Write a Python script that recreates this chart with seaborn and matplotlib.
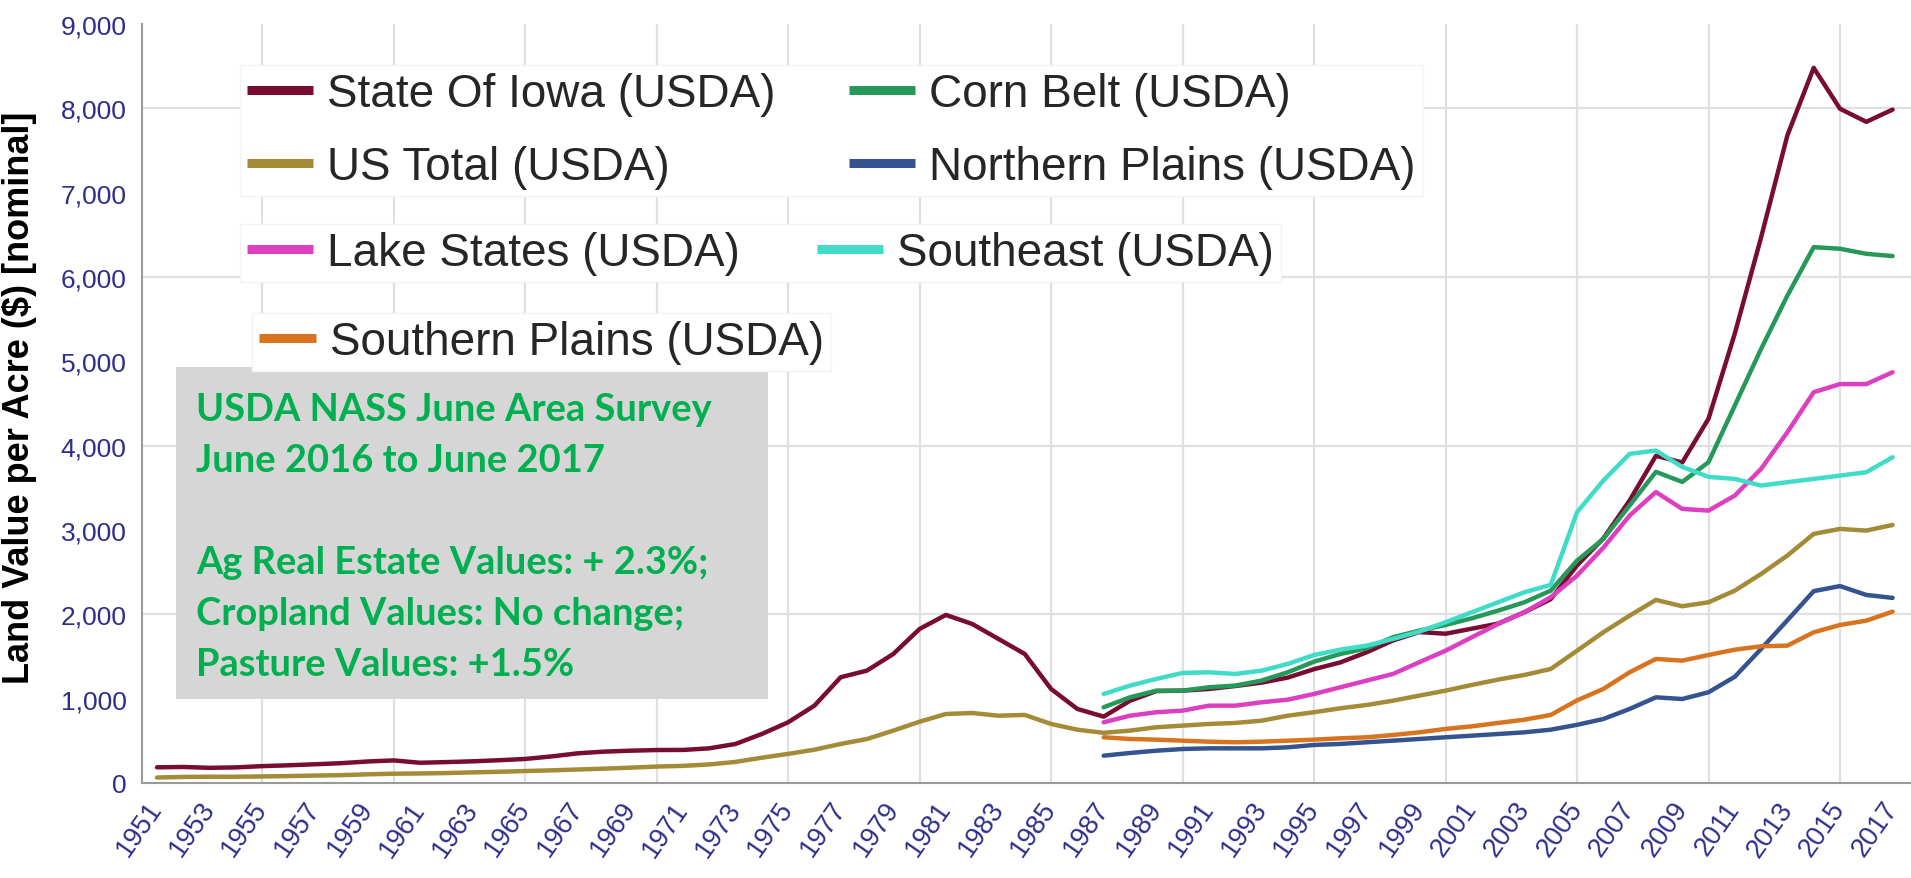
import matplotlib
matplotlib.use("Agg")
import matplotlib.pyplot as plt
from matplotlib.patches import Rectangle
from matplotlib.ticker import FixedLocator, FuncFormatter
import pandas as pd
import seaborn as sns

# ------------------------------
# Data
# ------------------------------
years_long = list(range(1951, 2018))
years_short = list(range(1987, 2018))

iowa = [186, 190, 180, 185, 200, 210, 222, 235, 255, 268,
        240, 248, 257, 270, 285, 315, 352, 372, 383, 391,
        392, 411, 463, 581, 720, 917, 1254, 1333, 1530, 1827,
        1993, 1886, 1708, 1530, 1115, 878, 787, 975, 1090, 1095,
        1115, 1150, 1190, 1250, 1350, 1430, 1550, 1690, 1790, 1770,
        1830, 1890, 2025, 2180, 2580, 2900, 3350, 3880, 3800, 4320,
        5330, 6470, 7680, 8480, 7995, 7840, 7985]

us_total = [65, 72, 74, 74, 78, 82, 88, 93, 103, 110,
            113, 118, 126, 133, 142, 150, 160, 170, 182, 195,
            203, 220, 250, 300, 345, 395, 463, 522, 621, 727,
            818, 830, 798, 807, 700, 632, 595, 621, 661, 680,
            700, 712, 739, 798, 839, 886, 925, 976, 1036, 1095,
            1163, 1226, 1281, 1352, 1569, 1787, 1985, 2171, 2096, 2143,
            2281, 2479, 2697, 2954, 3013, 2993, 3060]

corn_belt = [898, 1016, 1095, 1095, 1135, 1155, 1214, 1313, 1439, 1530,
             1597, 1728, 1807, 1874, 1953, 2044, 2143, 2281, 2637, 2894,
             3290, 3690, 3570, 3804, 4476, 5148, 5780, 6354, 6335, 6275,
             6248]

northern_plains = [324, 356, 383, 403, 411, 411, 411, 423, 451, 463,
                   483, 502, 522, 542, 561, 581, 601, 632, 690, 759,
                   878, 1016, 996, 1076, 1260, 1590, 1930, 2275, 2335, 2230,
                   2195]

lake_states = [720, 798, 839, 858, 917, 917, 957, 988, 1056, 1135,
               1214, 1293, 1432, 1569, 1728, 1886, 2025, 2203, 2459, 2790,
               3171, 3450, 3250, 3230, 3408, 3725, 4160, 4634, 4730, 4730,
               4871]

southeast = [1056, 1155, 1234, 1305, 1313, 1293, 1332, 1412, 1518, 1581,
             1629, 1708, 1795, 1906, 2025, 2143, 2262, 2349, 3211, 3586,
             3903, 3942, 3748, 3630, 3606, 3527, 3567, 3606, 3645, 3685,
             3863]

southern_plains = [542, 522, 514, 502, 490, 483, 490, 502, 514, 530,
                   542, 569, 601, 641, 672, 712, 751, 807, 980, 1115,
                   1313, 1471, 1451, 1518, 1581, 1621, 1629, 1787, 1874, 1925,
                   2032]

series_names = ["State Of Iowa (USDA)", "Corn Belt (USDA)", "US Total (USDA)",
                "Northern Plains (USDA)", "Lake States (USDA)", "Southeast (USDA)",
                "Southern Plains (USDA)"]
series_colors = ["#780c32", "#26995a", "#a38b38", "#35548f", "#dc3fc0",
                 "#40dcc8", "#d8731f"]

x_tick_years = list(range(1951, 2018, 2))
y_ticks = list(range(0, 9001, 1000))
x_grid_years = list(range(1955, 2016, 5))
y_grid_values = [2000, 4000, 6000, 8000]

note_lines = ["USDA NASS June Area Survey", "June 2016 to June 2017", "",
              "Ag Real Estate Values: + 2.3%;", "Cropland Values: No change;",
              "Pasture Values: +1.5%"]

# ------------------------------
# Long-form table
# ------------------------------
parts = [
    ("State Of Iowa (USDA)", years_long, iowa),
    ("US Total (USDA)", years_long, us_total),
    ("Corn Belt (USDA)", years_short, corn_belt),
    ("Northern Plains (USDA)", years_short, northern_plains),
    ("Lake States (USDA)", years_short, lake_states),
    ("Southeast (USDA)", years_short, southeast),
    ("Southern Plains (USDA)", years_short, southern_plains),
]
df = pd.concat([pd.DataFrame({"year": yrs, "value": vals, "series": name})
                for name, yrs, vals in parts], ignore_index=True)

sns.set_style("white")
plt.rcParams["font.family"] = ["Liberation Sans", "DejaVu Sans"]

W, H = 1911, 879
fig = plt.figure(figsize=(W / 100, H / 100), dpi=100)
ax = fig.add_axes([142 / W, 1 - 784 / H, 1 - 142 / W, (784 - 25) / H])

sns.lineplot(data=df, x="year", y="value", hue="series", hue_order=series_names,
             palette=series_colors, linewidth=3.2, ax=ax)
handles, labels = ax.get_legend_handles_labels()
ax.get_legend().remove()
lookup = dict(zip(labels, handles))

# axes, ticks, grid
ax.set_xlim(1950.43, 2017.7)
ax.set_ylim(0, 9000)
ax.set_xticks(x_tick_years)
ax.set_xticklabels([str(y) for y in x_tick_years], rotation=55, ha="right",
                   va="center", rotation_mode="anchor")
ax.set_yticks(y_ticks)
ax.yaxis.set_major_formatter(FuncFormatter(lambda v, p: f"{int(v):,}"))
ax.xaxis.set_minor_locator(FixedLocator(x_grid_years))
ax.yaxis.set_minor_locator(FixedLocator(y_grid_values))
ax.xaxis.remove_overlapping_locs = False
ax.yaxis.remove_overlapping_locs = False
ax.grid(which="major", visible=False)
ax.grid(which="minor", color="#e0e0e0", linewidth=1.6)
ax.set_axisbelow(True)
ax.tick_params(which="minor", length=0)
ax.tick_params(which="major", color="#9a9a9a", labelcolor="#2e2e8c", width=1.5)
ax.tick_params(axis="x", labelsize=19.5, length=6, pad=9)
ax.tick_params(axis="y", labelsize=19, length=5, pad=6)
sns.despine(ax=ax)
for s in ["left", "bottom"]:
    ax.spines[s].set_color("#9a9a9a")
    ax.spines[s].set_linewidth(1.5)

ax.set_xlabel("")
ax.set_ylabel("Land Value per Acre ($) [nominal]", fontsize=26,
              fontweight="bold", color="black")
ax.yaxis.set_label_coords(-0.0594, 0.5086)

# ------------------------------
# Legend rows (white boxes over the grid)
# ------------------------------
def add_legend(names, ncol, left, top, colsp, hlen=1.44):
    leg = fig.legend([lookup[n] for n in names], names, loc="upper left",
                     bbox_to_anchor=(left / W, 1 - top / H), ncol=ncol,
                     fontsize=33, frameon=True, facecolor="white",
                     edgecolor="#f2f2f2", framealpha=1, fancybox=False,
                     borderpad=0.15, borderaxespad=0, handlelength=hlen,
                     handletextpad=0.3, columnspacing=colsp, labelspacing=0.64)
    for h in leg.legend_handles:
        h.set_linewidth(6.5)
        h.set_solid_capstyle("butt")
    return leg

add_legend(["State Of Iowa (USDA)", "US Total (USDA)",
            "Corn Belt (USDA)", "Northern Plains (USDA)"], 2, 240, 66, 1.62)
add_legend(["Lake States (USDA)", "Southeast (USDA)"], 2, 240, 225, 1.7)
add_legend(["Southern Plains (USDA)"], 1, 252, 314, 1.0, hlen=1.25)

# ------------------------------
# Grey note box
# ------------------------------
fig.add_artist(Rectangle((176 / W, 1 - 700 / H), (768 - 176) / W, (700 - 368) / H,
                         transform=fig.transFigure, facecolor="#d6d6d6",
                         edgecolor="none", zorder=1))
for i, line in enumerate(note_lines):
    if line:
        fig.text(196 / W, 1 - (410 + i * 51) / H, line, ha="left", va="center",
                 family=["Lato", "DejaVu Sans"], fontweight="bold", fontsize=27.4,
                 color="#00b050", zorder=2)

fig.savefig("out.png", dpi=100)
plt.close(fig)
